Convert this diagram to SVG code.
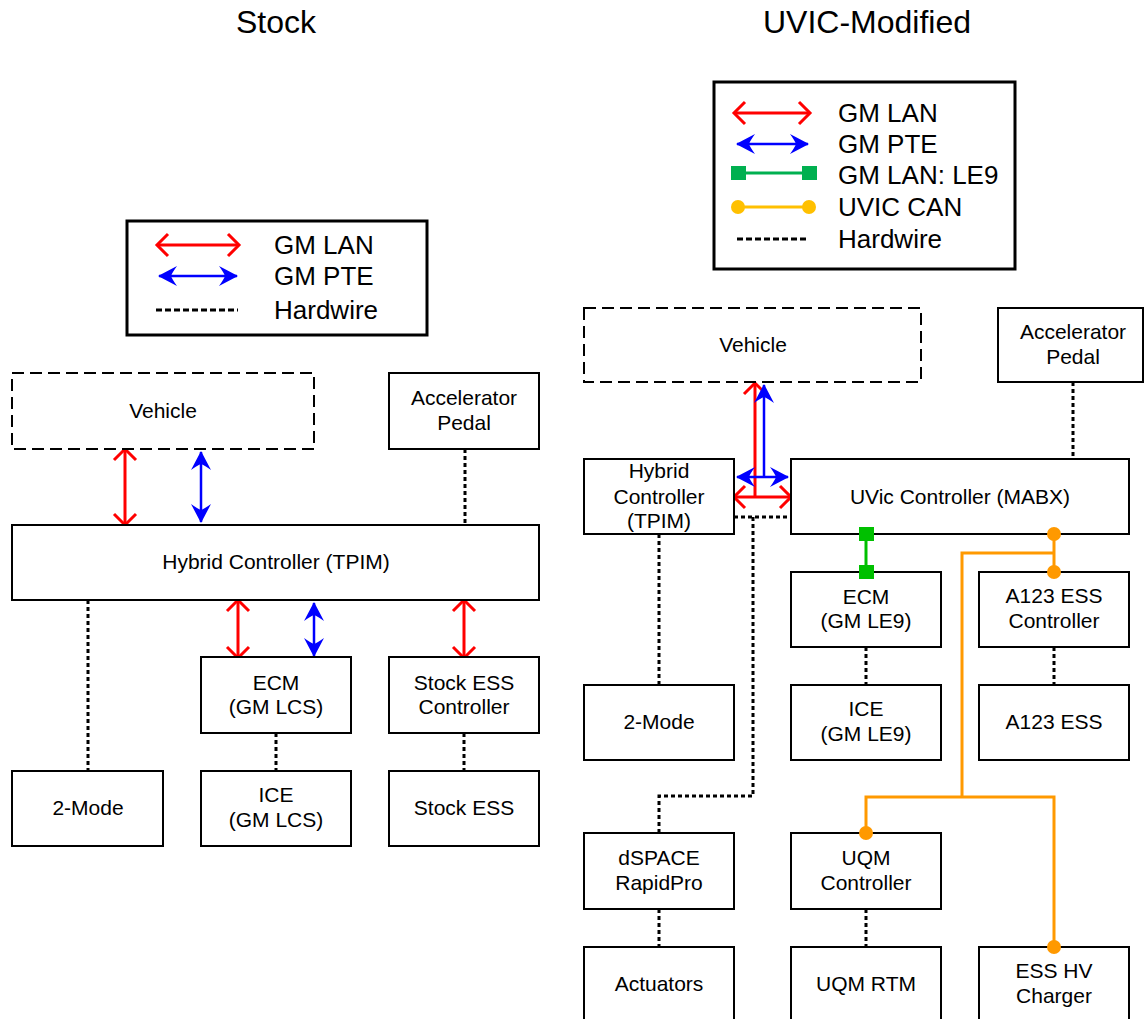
<svg xmlns="http://www.w3.org/2000/svg" width="1144" height="1019" viewBox="0 0 1144 1019">
  <style>
    text { font-family: "Liberation Sans", Arial, sans-serif; fill: #000; text-anchor: middle; }
    .title { font-size: 32px; }
    .lg { font-size: 26px; text-anchor: start; }
    .t { font-size: 21px; }
    .box { fill: #fff; stroke: #000; stroke-width: 2; }
    .dash { fill: #fff; stroke: #000; stroke-width: 2; stroke-dasharray: 12 6; }
    .legend { fill: #fff; stroke: #000; stroke-width: 3; }
    .lan { stroke: #FF0000; stroke-width: 3; fill: none; marker-start: url(#chev); marker-end: url(#chev); }
    .lan1 { stroke: #FF0000; stroke-width: 3; fill: none; marker-end: url(#chev); }
    .pte { stroke: #0000FF; stroke-width: 2.5; fill: none; marker-start: url(#barb); marker-end: url(#barb); }
    .pte1 { stroke: #0000FF; stroke-width: 2.5; fill: none; marker-end: url(#barb); }
    .hw { stroke: #000; stroke-width: 3; fill: none; stroke-dasharray: 4 3; }
    .hwl { stroke: #000; stroke-width: 3; fill: none; stroke-dasharray: 6 3; }
    .le9 { stroke: #00C000; stroke-width: 3; fill: none; }
    .can { stroke: #FF9900; stroke-width: 3; fill: none; }
  </style>
  <defs>
    <marker id="chev" viewBox="-14 -14 16 28" refX="0" refY="0" markerWidth="16" markerHeight="28" markerUnits="userSpaceOnUse" orient="auto-start-reverse" overflow="visible">
      <path d="M-11,-11 L0,0 L-11,11" fill="none" stroke="#FF0000" stroke-width="3"/>
    </marker>
    <marker id="barb" viewBox="-20 -11 21 22" refX="0" refY="0" markerWidth="21" markerHeight="22" markerUnits="userSpaceOnUse" orient="auto-start-reverse" overflow="visible">
      <path d="M1,0 L-18,-10 Q-13,-3 -12,0 Q-13,3 -18,10 Z" fill="#0000FF"/>
    </marker>
  </defs>

  <rect width="1144" height="1019" fill="#fff"/>

  <!-- Headings -->
  <text class="title" x="276" y="33">Stock</text>
  <text class="title" x="867" y="33">UVIC-Modified</text>

  <!-- Stock legend -->
  <g id="legend-stock">
    <rect class="legend" x="127" y="221" width="300" height="114"/>
    <line x1="157" y1="245" x2="239" y2="245" class="lan"/>
    <line x1="159" y1="276" x2="237" y2="276" class="pte"/>
    <line x1="156" y1="310" x2="238" y2="310" class="hwl"/>
    <text class="lg" x="274" y="254">GM LAN</text>
    <text class="lg" x="274" y="285">GM PTE</text>
    <text class="lg" x="274" y="319">Hardwire</text>
  </g>

  <!-- UVIC legend -->
  <g id="legend-uvic">
    <rect class="legend" x="714" y="82" width="301" height="187"/>
    <line x1="734" y1="113" x2="810" y2="113" class="lan"/>
    <line x1="737" y1="144" x2="808" y2="144" class="pte"/>
    <line x1="738" y1="173" x2="810" y2="173" stroke="#00B050" stroke-width="3"/>
    <rect x="731" y="166" width="15" height="14" fill="#00B050"/>
    <rect x="802" y="166" width="15" height="14" fill="#00B050"/>
    <line x1="738" y1="207" x2="809" y2="207" stroke="#FFC000" stroke-width="3"/>
    <circle cx="738" cy="207" r="7" fill="#FFC000"/>
    <circle cx="809" cy="207" r="7" fill="#FFC000"/>
    <line x1="737" y1="239" x2="809" y2="239" class="hwl"/>
    <text class="lg" x="838" y="122">GM LAN</text>
    <text class="lg" x="838" y="153">GM PTE</text>
    <text class="lg" x="838" y="184">GM LAN: LE9</text>
    <text class="lg" x="838" y="216">UVIC CAN</text>
    <text class="lg" x="838" y="248">Hardwire</text>
  </g>

  <!-- Connectors -->
  <g id="connectors">
    <!-- stock -->
    <line x1="125" y1="449" x2="125" y2="525" class="lan"/>
    <line x1="201" y1="452" x2="201" y2="522" class="pte"/>
    <line x1="465" y1="449" x2="465" y2="525" class="hw"/>
    <line x1="88" y1="600" x2="88" y2="771" class="hw"/>
    <line x1="238" y1="600" x2="238" y2="658" class="lan"/>
    <line x1="314" y1="603" x2="314" y2="656" class="pte"/>
    <line x1="464" y1="600" x2="464" y2="658" class="lan"/>
    <line x1="276" y1="733" x2="276" y2="771" class="hw"/>
    <line x1="464" y1="733" x2="464" y2="771" class="hw"/>

    <!-- uvic -->
    <line x1="755" y1="497" x2="755" y2="383" class="lan1"/>
    <line x1="734" y1="497" x2="791" y2="497" class="lan"/>
    <line x1="764" y1="477" x2="764" y2="385" class="pte1"/>
    <line x1="737" y1="477" x2="788" y2="477" class="pte"/>
    <line x1="1073" y1="382" x2="1073" y2="459" class="hw"/>
    <path d="M734,517 H791" class="hw"/>
    <path d="M753,517 V796 H659 V833" class="hw"/>
    <line x1="659" y1="534" x2="659" y2="685" class="hw"/>
    <line x1="866" y1="647" x2="866" y2="685" class="hw"/>
    <line x1="1054" y1="647" x2="1054" y2="685" class="hw"/>
    <line x1="659" y1="909" x2="659" y2="947" class="hw"/>
    <line x1="866" y1="909" x2="866" y2="947" class="hw"/>

    <line x1="866" y1="534" x2="866" y2="572" class="le9"/>

    <path d="M1054,534 V572" class="can"/>
    <path d="M1054,553 H962 V797" class="can"/>
    <path d="M866,833 V797 H1054 V947" class="can"/>
  </g>

  <!-- Stock nodes -->
  <g id="s-vehicle"><rect class="dash" x="12" y="373" width="302" height="76"/><text class="t" x="163" y="418">Vehicle</text></g>
  <g id="s-pedal"><rect class="box" x="389" y="373" width="150" height="76"/><text class="t" x="464" y="405">Accelerator</text><text class="t" x="464" y="430">Pedal</text></g>
  <g id="s-hybrid"><rect class="box" x="12" y="525" width="527" height="75"/><text class="t" x="276" y="569">Hybrid Controller (TPIM)</text></g>
  <g id="s-ecm"><rect class="box" x="201" y="657" width="150" height="76"/><text class="t" x="276" y="690">ECM</text><text class="t" x="276" y="714">(GM LCS)</text></g>
  <g id="s-esscontroller"><rect class="box" x="389" y="657" width="150" height="76"/><text class="t" x="464" y="690">Stock ESS</text><text class="t" x="464" y="714">Controller</text></g>
  <g id="s-2mode"><rect class="box" x="12" y="771" width="151" height="75"/><text class="t" x="88" y="815">2-Mode</text></g>
  <g id="s-ice"><rect class="box" x="201" y="771" width="150" height="75"/><text class="t" x="276" y="802">ICE</text><text class="t" x="276" y="827">(GM LCS)</text></g>
  <g id="s-ess"><rect class="box" x="389" y="771" width="150" height="75"/><text class="t" x="464" y="815">Stock ESS</text></g>

  <!-- UVIC nodes -->
  <g id="u-vehicle"><rect class="dash" x="584" y="308" width="337" height="74"/><text class="t" x="753" y="352">Vehicle</text></g>
  <g id="u-pedal"><rect class="box" x="998" y="308" width="145" height="74"/><text class="t" x="1073" y="339">Accelerator</text><text class="t" x="1073" y="364">Pedal</text></g>
  <g id="u-hybrid"><rect class="box" x="584" y="459" width="150" height="75"/><text class="t" x="659" y="478">Hybrid</text><text class="t" x="659" y="504">Controller</text><text class="t" x="659" y="528">(TPIM)</text></g>
  <g id="u-mabx"><rect class="box" x="791" y="459" width="338" height="75"/><text class="t" x="960" y="504">UVic Controller (MABX)</text></g>
  <g id="u-ecm"><rect class="box" x="791" y="572" width="150" height="75"/><text class="t" x="866" y="604">ECM</text><text class="t" x="866" y="628">(GM LE9)</text></g>
  <g id="u-a123ctl"><rect class="box" x="979" y="572" width="150" height="75"/><text class="t" x="1054" y="603">A123 ESS</text><text class="t" x="1054" y="628">Controller</text></g>
  <g id="u-2mode"><rect class="box" x="584" y="685" width="150" height="75"/><text class="t" x="659" y="729">2-Mode</text></g>
  <g id="u-ice"><rect class="box" x="791" y="685" width="150" height="75"/><text class="t" x="866" y="716">ICE</text><text class="t" x="866" y="741">(GM LE9)</text></g>
  <g id="u-a123"><rect class="box" x="979" y="685" width="150" height="75"/><text class="t" x="1054" y="729">A123 ESS</text></g>
  <g id="u-dspace"><rect class="box" x="584" y="833" width="150" height="76"/><text class="t" x="659" y="865">dSPACE</text><text class="t" x="659" y="890">RapidPro</text></g>
  <g id="u-uqmctl"><rect class="box" x="791" y="833" width="150" height="76"/><text class="t" x="866" y="865">UQM</text><text class="t" x="866" y="890">Controller</text></g>
  <g id="u-actuators"><rect class="box" x="584" y="947" width="150" height="80"/><text class="t" x="659" y="991">Actuators</text></g>
  <g id="u-uqmrtm"><rect class="box" x="791" y="947" width="150" height="80"/><text class="t" x="866" y="991">UQM RTM</text></g>
  <g id="u-charger"><rect class="box" x="979" y="947" width="150" height="80"/><text class="t" x="1054" y="978">ESS HV</text><text class="t" x="1054" y="1003">Charger</text></g>

  <!-- connector end marks, drawn over the node borders -->
  <g id="connector-ends">
    <circle cx="1054" cy="534" r="7" fill="#FF9900"/>
    <circle cx="1054" cy="572" r="7" fill="#FF9900"/>
    <circle cx="866" cy="833" r="7" fill="#FF9900"/>
    <circle cx="1054" cy="947" r="7" fill="#FF9900"/>
    <rect x="859" y="527" width="15" height="14" fill="#00C000"/>
    <rect x="859" y="565" width="15" height="14" fill="#00C000"/>
  </g>
</svg>
